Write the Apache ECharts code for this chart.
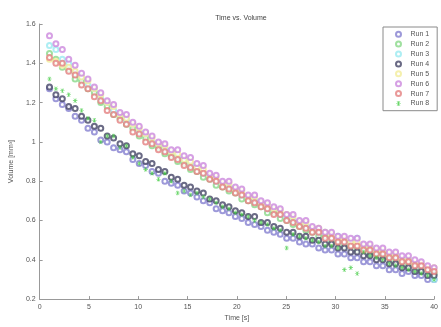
<!DOCTYPE html>
<html>
<head>
<meta charset="utf-8">
<script src="https://cdn.jsdelivr.net/npm/echarts@6/dist/echarts.min.js"></script>
<style>
  html, body { margin: 0; padding: 0; background: #fff; }
  #chart { width: 441px; height: 327px; }
</style>
</head>
<body>
<div id="chart"></div>
<script>
// sample times [s]
const TIMES = [1, 1.65, 2.3, 2.95, 3.6, 4.25, 4.9, 5.55, 6.2, 6.85, 7.5, 8.15, 8.8, 9.45, 10.1,
  10.75, 11.4, 12.05, 12.7, 13.35, 14, 14.65, 15.3, 15.95, 16.6, 17.25, 17.9, 18.55, 19.2, 19.85,
  20.5, 21.15, 21.8, 22.45, 23.1, 23.75, 24.4, 25.05, 25.7, 26.35, 27, 27.65, 28.3, 28.95, 29.6,
  30.25, 30.9, 31.55, 32.2, 32.85, 33.5, 34.15, 34.8, 35.45, 36.1, 36.75, 37.4, 38.05, 38.7, 39.35, 40];

// volumes [mm^3] per run
const RUN1 = [1.27,1.22,1.19,1.17,1.13,1.11,1.07,1.05,1.01,1.00,0.97,0.96,0.95,0.91,0.89,0.88,0.85,0.84,0.80,0.79,
  0.78,0.75,0.74,0.72,0.70,0.69,0.66,0.65,0.64,0.62,0.61,0.59,0.58,0.57,0.55,0.54,0.53,0.51,0.51,0.49,
  0.48,0.48,0.46,0.45,0.45,0.43,0.43,0.41,0.41,0.39,0.39,0.37,0.37,0.35,0.35,0.33,0.34,0.32,0.32,0.30,0.30];
const RUN2 = [1.45,1.42,1.38,1.37,1.32,1.31,1.27,1.25,1.20,1.18,1.14,1.12,1.09,1.07,1.03,1.02,0.98,0.97,0.94,0.93,
  0.90,0.89,0.86,0.85,0.82,0.81,0.78,0.77,0.75,0.74,0.71,0.70,0.68,0.67,0.64,0.64,0.61,0.60,0.58,0.57,
  0.55,0.54,0.52,0.52,0.49,0.49,0.47,0.47,0.45,0.45,0.43,0.43,0.41,0.41,0.39,0.39,0.37,0.37,0.35,0.35,0.33];
const RUN3 = [1.49,1.47,1.42,1.40,1.35,1.33,1.29,1.27,1.22,1.20,1.16,1.14,1.11,1.09,1.05,1.04,1.00,0.99,0.96,0.95,
  0.92,0.91,0.88,0.87,0.84,0.83,0.80,0.79,0.77,0.76,0.73,0.72,0.70,0.69,0.66,0.66,0.63,0.62,0.60,0.59,
  0.57,0.56,0.54,0.54,0.51,0.52,0.49,0.49,0.51,0.46,0.46,0.44,0.44,0.42,0.42,0.40,0.40,0.37,0.37,0.34,0.30];
const RUN4 = [1.28,1.24,1.22,1.18,1.17,1.13,1.11,1.08,1.07,1.03,1.02,0.99,0.98,0.94,0.93,0.90,0.89,0.86,0.85,0.82,
  0.81,0.78,0.77,0.75,0.74,0.71,0.70,0.68,0.67,0.65,0.64,0.62,0.62,0.59,0.59,0.57,0.56,0.54,0.54,0.52,
  0.52,0.50,0.50,0.48,0.48,0.46,0.46,0.44,0.44,0.42,0.42,0.40,0.40,0.38,0.38,0.36,0.36,0.34,0.34,0.32,0.32];
const RUN5 = [1.42,1.41,1.39,1.38,1.36,1.33,1.31,1.27,1.24,1.20,1.18,1.14,1.12,1.09,1.07,1.04,1.02,0.99,0.98,0.95,
  0.94,0.91,0.90,0.87,0.86,0.83,0.82,0.79,0.79,0.76,0.75,0.72,0.72,0.69,0.68,0.66,0.65,0.63,0.62,0.59,
  0.59,0.56,0.56,0.54,0.53,0.51,0.51,0.49,0.49,0.47,0.47,0.45,0.45,0.43,0.43,0.40,0.40,0.38,0.38,0.36,0.36];
const RUN6 = [1.54,1.50,1.47,1.42,1.39,1.35,1.32,1.28,1.25,1.21,1.19,1.15,1.14,1.10,1.08,1.05,1.03,1.00,0.99,0.96,
  0.96,0.93,0.92,0.89,0.88,0.84,0.83,0.80,0.80,0.77,0.76,0.73,0.73,0.70,0.69,0.67,0.66,0.63,0.63,0.60,
  0.60,0.57,0.56,0.54,0.54,0.52,0.52,0.51,0.51,0.48,0.48,0.46,0.46,0.44,0.44,0.42,0.42,0.40,0.39,0.37,0.36];
const RUN7 = [1.43,1.40,1.40,1.36,1.34,1.29,1.27,1.23,1.21,1.16,1.14,1.11,1.09,1.05,1.04,1.00,0.99,0.96,0.95,0.92,
  0.91,0.88,0.87,0.85,0.84,0.81,0.80,0.77,0.76,0.74,0.73,0.70,0.69,0.67,0.66,0.63,0.63,0.60,0.59,0.57,
  0.56,0.54,0.54,0.51,0.51,0.49,0.49,0.47,0.47,0.45,0.45,0.43,0.43,0.41,0.41,0.39,0.39,0.37,0.37,0.35,0.34];
const RUN8 = [1.32,1.27,1.26,1.24,1.21,1.16,1.12,1.11,1.00,1.03,1.03,0.97,0.98,0.92,0.89,0.86,0.84,0.81,0.84,0.80,
  0.74,0.75,0.73,0.74,0.72,0.71,0.69,0.67,0.66,0.64,0.63,0.62,0.60,0.59,0.58,0.56,0.55,0.46,0.53,0.52,
  0.51,0.50,0.49,0.47,0.47,0.46,0.35,0.36,0.33,0.44,0.42,0.41,0.40,0.38,0.37,0.36,0.35,0.34,0.33,0.32,0.30];

const RUN_NAMES = ['Run 1', 'Run 2', 'Run 3', 'Run 4', 'Run 5', 'Run 6', 'Run 7', 'Run 8'];
const RUN_VALUES = [RUN1, RUN2, RUN3, RUN4, RUN5, RUN6, RUN7, RUN8];
const RUN_COLORS = ['#8580d0', '#88d888', '#9aeaf0', '#454566', '#f2ec9a', '#cc88dd', '#e48080', '#44cc44'];

const X_TICKS = [0, 5, 10, 15, 20, 25, 30, 35, 40];
const Y_TICKS = [0.2, 0.4, 0.6, 0.8, 1, 1.2, 1.4, 1.6];

// asterisk marker for the last run
const STAR = 'path://M4.3,0H5.7V10H4.3Z M0,4.3H10V5.7H0Z M1.2,0.2L2.2,-0.2L8.8,9.8L7.8,10.2Z M7.8,-0.2L8.8,0.2L2.2,10.2L1.2,9.8Z';

const chart = echarts.init(document.getElementById('chart'), null, { renderer: 'canvas' });
const FONT = 'Liberation Sans, Arial, sans-serif';

const series = RUN_NAMES.map((name, i) => ({
  name,
  type: 'scatter',
  data: RUN_VALUES[i].map((v, k) => [TIMES[k], v]),
  symbol: i === 7 ? STAR : 'emptyCircle',
  symbolSize: i === 7 ? 4.5 : 5,
  itemStyle: i === 7
    ? { color: RUN_COLORS[i] }
    : { color: RUN_COLORS[i], borderColor: RUN_COLORS[i], borderWidth: 1 },
  emphasis: { disabled: true },
  clip: true,
}));

const option = {
  animation: false,
  backgroundColor: '#ffffff',
  title: {
    text: 'Time vs. Volume',
    left: 236, top: 10, textAlign: 'center',
    textStyle: { fontFamily: FONT, fontSize: 7, fontWeight: 'normal', color: '#444' },
  },
  legend: {
    orient: 'vertical',
    left: 383, top: 27,
    padding: [3, 8, 3, 12],
    itemGap: 1.5,
    itemWidth: 8,
    itemHeight: 5,
    borderColor: '#8a8a8a',
    borderWidth: 1,
    backgroundColor: '#fff',
    textStyle: { fontFamily: FONT, fontSize: 7, lineHeight: 8.4, color: '#555', padding: [0, 0, 0, 3] },
    data: RUN_NAMES.map((n, i) => ({ name: n, icon: i === 7 ? STAR : 'emptyCircle' })),
  },
  grid: { left: 33, right: 1, top: 24, bottom: 20 },
  xAxis: {
    type: 'value', min: 0, max: 40, interval: 5,
    name: 'Time [s]', nameLocation: 'middle', nameGap: 13,
    nameTextStyle: { fontFamily: FONT, fontSize: 7, color: '#555' },
    axisLine: { show: true, lineStyle: { color: '#999', width: 1 } },
    axisTick: { show: true, inside: true, length: 3, lineStyle: { color: '#999' } },
    axisLabel: { fontFamily: FONT, fontSize: 7, color: '#555', margin: 4,
      formatter: v => (X_TICKS.includes(v) ? String(v) : '') },
    splitLine: { show: false },
  },
  yAxis: {
    type: 'value', min: 0.2, max: 1.6, interval: 0.2,
    name: 'Volume [mm³]', nameLocation: 'middle', nameGap: 20, nameRotate: 90,
    nameTextStyle: { fontFamily: FONT, fontSize: 7, color: '#555' },
    axisLine: { show: true, lineStyle: { color: '#999', width: 1 } },
    axisTick: { show: true, inside: true, length: 3, lineStyle: { color: '#999' } },
    axisLabel: { fontFamily: FONT, fontSize: 7, color: '#555', margin: 4,
      formatter: v => {
        const t = Y_TICKS.find(y => Math.abs(y - v) < 1e-6);
        return t === undefined ? '' : String(t);
      } },
    splitLine: { show: false },
  },
  series,
};

chart.setOption(option);
</script>
</body>
</html>
